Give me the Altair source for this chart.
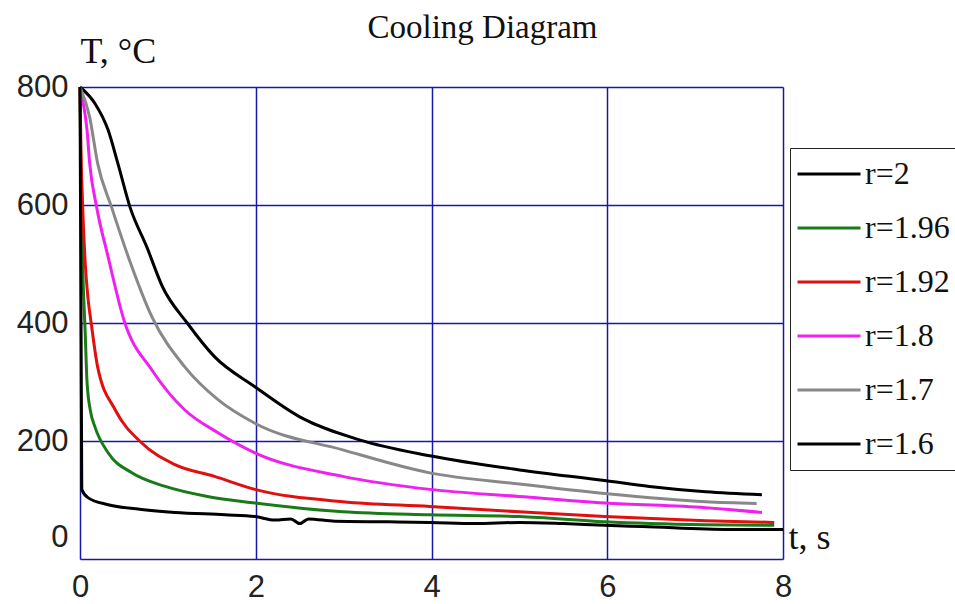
import altair as alt
import pandas as pd

series_names = ["r=2", "r=1.96", "r=1.92", "r=1.8", "r=1.7", "r=1.6"]
series_colors = ["#000000", "#1a7a1a", "#e01010", "#f020f0", "#888888", "#000000"]

t_r2 = [0, 0.17, 0.32, 0.43, 0.57, 0.76, 0.94, 1.22, 1.53, 1.99, 2.5, 3.18, 3.98, 5.0, 5.97, 6.48, 7.12, 7.76]
T_r2 = [800, 772, 727, 671, 596, 529, 461, 400, 343, 292, 241, 202, 175, 151, 133, 123, 114, 109]

t_r196 = [0, 0.01, 0.03, 0.06, 0.08, 0.12, 0.17, 0.32, 0.59, 0.97, 1.45, 1.99, 2.99, 3.98, 5.0, 5.97, 7.12, 7.9]
T_r196 = [800, 650, 500, 380, 300, 250, 224, 180, 146, 123, 106, 95, 80, 75, 72, 63, 58, 57]

t_r192 = [0, 0.01, 0.03, 0.06, 0.09, 0.13, 0.2, 0.4, 0.7, 1.08, 1.53, 1.99, 2.99, 3.98, 5.0, 5.97, 7.12, 7.9]
T_r192 = [800, 700, 600, 500, 444, 397, 326, 253, 197, 160, 140, 118, 97, 89, 80, 72, 65, 62]

t_r18 = [0, 0.04, 0.08, 0.11, 0.19, 0.32, 0.5, 0.82, 1.19, 1.57, 1.99, 2.99, 3.98, 5.0, 5.97, 7.12, 7.76]
T_r18 = [800, 770, 727, 671, 596, 512, 405, 320, 253, 214, 180, 140, 118, 106, 95, 87, 79]

t_r17 = [0, 0.11, 0.2, 0.36, 0.55, 0.82, 1.19, 1.57, 1.99, 2.99, 3.98, 5.0, 5.97, 7.12, 7.7]
T_r17 = [800, 749, 671, 596, 512, 410, 326, 270, 230, 185, 146, 127, 111, 97, 94]

t_r16 = [0, 0.02, 0.09, 0.32, 0.7, 1.08, 1.65, 1.99, 2.22, 2.4, 2.5, 2.6, 2.9, 3.5, 3.98, 4.5, 5.0, 5.5, 5.97, 6.4, 7.4, 8.0]
T_r16 = [800, 118, 104, 92, 84, 79, 75, 72, 66, 68, 60, 68, 64, 63, 62, 60, 62, 60, 57, 55, 50, 50]

x_ticks = [0, 2, 4, 6, 8]
y_ticks = [0, 200, 400, 600, 800]

all_t = [t_r2, t_r196, t_r192, t_r18, t_r17, t_r16]
all_T = [T_r2, T_r196, T_r192, T_r18, T_r17, T_r16]

rows = []
for idx, (name, ts, Ts) in enumerate(zip(series_names, all_t, all_T)):
    for i, (a, b) in enumerate(zip(ts, Ts)):
        rows.append({"series": name, "order": idx, "i": i, "t": a, "T": b})
df = pd.DataFrame(rows)

GRID = "#1818a8"

chart = alt.Chart(df).mark_line(strokeWidth=3, interpolate="monotone").encode(
    x=alt.X("t:Q",
            scale=alt.Scale(domain=[0, 8], nice=False, zero=False),
            axis=alt.Axis(values=x_ticks, title="t, s", grid=True, gridColor=GRID, gridWidth=1.5,
                          gridOpacity=1, domain=False, ticks=False, labelPadding=13,
                          labelFont="Liberation Sans", labelFontSize=31, labelColor="#222222",
                          labelFontWeight="normal", labelFlush=False,
                          titleFont="Liberation Serif", titleFontSize=36, titleFontWeight="normal",
                          titleColor="#111111", titleAngle=0, titleAlign="left",
                          titleBaseline="middle", titleX=708, titleY=-22)),
    y=alt.Y("T:Q",
            scale=alt.Scale(domain=[0, 800], nice=False, zero=False),
            axis=alt.Axis(values=y_ticks, title="T, °C", grid=True, gridColor=GRID, gridWidth=1.5,
                          gridOpacity=1, domain=False, ticks=False, labelPadding=12,
                          labelFont="Liberation Sans", labelFontSize=31, labelColor="#222222",
                          labelFontWeight="normal", labelFlush=False,
                          labelOffset={"condition": {"test": "datum.value == 0", "value": -22}, "value": 0},
                          titleFont="Liberation Serif", titleFontSize=36, titleFontWeight="normal",
                          titleColor="#111111", titleAngle=0, titleAlign="left",
                          titleBaseline="middle", titleX=0, titleY=-36)),
    color=alt.Color("series:N",
                    scale=alt.Scale(domain=series_names, range=series_colors),
                    sort=series_names,
                    legend=alt.Legend(title=None, orient="none", legendX=710, legendY=61,
                                      symbolType="stroke", symbolSize=3969, symbolStrokeWidth=3,
                                      clipHeight=40, rowPadding=14, padding=6,
                                      labelOffset=3, labelFont="Liberation Serif", labelFontSize=32,
                                      labelColor="#111111", labelLimit=300,
                                      strokeColor="#222222", fillColor="white")),
    order=alt.Order("i:Q"),
    detail="order:N",
).properties(
    width=703,
    height=472,
    padding={"left": 80, "top": 87, "right": 172, "bottom": 45},
    autosize=alt.AutoSizeParams(type="none"),
    title=alt.TitleParams("Cooling Diagram", font="Liberation Serif", fontSize=33,
                          fontWeight="normal", color="#111111", anchor="middle",
                          dx=51, offset=0, dy=38, baseline="alphabetic"),
).configure_view(stroke=GRID, strokeWidth=1.5).configure(background="white")

chart.save("out.html", embed_options={"renderer": "svg", "actions": False})
